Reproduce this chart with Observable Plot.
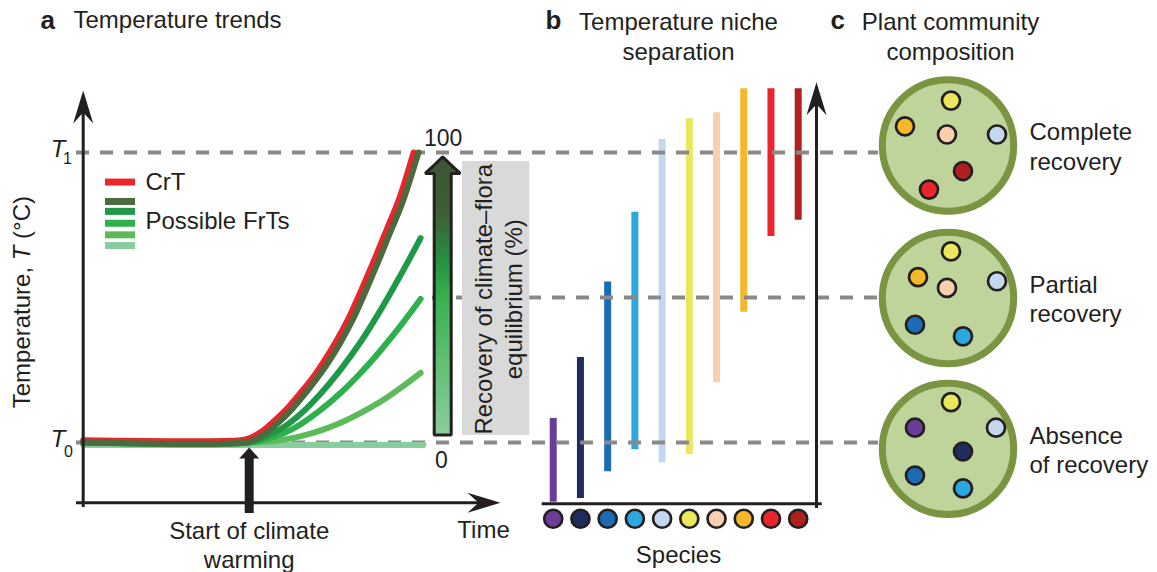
<!DOCTYPE html>
<html><head><meta charset="utf-8">
<script src="https://cdn.jsdelivr.net/npm/d3@7"></script>
<script src="https://cdn.jsdelivr.net/npm/@observablehq/plot@0.6"></script>
<style>html,body{margin:0;padding:0;background:#fff;overflow:hidden}</style>
</head><body><div id="chart"></div>
<script>
// ---------- DATA ----------
// Panel a: temperature trends (time 0-100, temperature 0 = T0, 100 = T1)
const crtTime   = [0, 38, 40, 43, 46, 49, 52, 55, 58, 61, 64, 67, 70, 73, 76, 79.6];
const crtTemp   = [0.8, 0.8, 1.4, 3.8, 7.4, 11.5, 16.5, 21.8, 28, 35, 43, 52.5, 62.5, 73, 83.5, 100];
const frt1Time  = [0, 39, 41, 44, 47, 50, 53, 56, 59, 62, 65, 68, 71, 74, 77, 80.8];
const frt1Temp  = [0, 0, 0.8, 3.2, 6.8, 11, 16, 21.5, 27.5, 34.5, 42.5, 52, 62, 72.5, 83, 100];
const frtTime   = [0, 40, 43, 48, 52.5, 57.3, 62.2, 67, 71.8, 76.6, 81.3];
const frt2Temp  = [0, 0, 1.3, 5, 10, 17, 25.5, 35, 46, 58, 70.5];
const frt3Temp  = [0, 0, 0.8, 3, 6.4, 11.3, 17.3, 24.2, 32, 40.5, 49.5];
const frt4Temp  = [0, 0, 0.15, 0.9, 2.2, 4.2, 6.9, 10.3, 14.2, 18.9, 24];
const frt5Time  = [0, 82];
const frt5Temp  = [-0.9, -0.9];
const trendNames  = ["FrT 0%", "FrT 25%", "FrT 50%", "FrT 75%", "CrT", "FrT 100%"];
const trendColors = ["#88cd9e", "#5cbb58", "#2eb14d", "#1f9948", "#e8262b", "#4b6a3d"];
const warmingStart = 40;
const recoveryTicks = [0, 100];

// Panel b: temperature niches of species (low, high)
const species      = [1, 2, 3, 4, 5, 6, 7, 8, 9, 10];
const speciesColor = ["#6b3c98", "#1f2d5e", "#1a6db3", "#2ba8e0", "#c3d7ee", "#ebe75c", "#f8d0b0", "#f6b829", "#e8262b", "#b0201f"];
const nicheLow     = [-20.6, -19.3, -10.1, -2.5, -7.0, -4.1, 20.6, 44.9, 71, 76.6];
const nicheHigh    = [8.3, 29.3, 55.3, 79.4, 104.5, 111.6, 113.7, 122, 122, 122];

// Panel c: plant community composition
const communities    = ["Complete\nrecovery", "Partial\nrecovery", "Absence\nof recovery"];
const communityLevel = [102.4, 49.8, -2.2];
const communityMembers = [
  [6, 8, 7, 5, 10, 9],
  [6, 8, 7, 5, 3, 4],
  [6, 1, 5, 2, 3, 4]
];
// member placement inside each community disc (layout x offset, temperature offset from disc centre)
const memberDx = [
  [3, -43, -1, 49, 15, -19],
  [3, -30, -1, 49, -33, 15],
  [3, -33, 48, 15, -33, 15]
];
const memberDT = [
  [15.5, 6.6, 3.8, 3.8, -8.8, -15.2],
  [16.1, 7.2, 3.5, 5.8, -9.2, -13.2],
  [16.1, 7.3, 7.3, -0.9, -9.2, -13.6]
];
const levels = [100, 50, 0];

// ---------- LAYOUT HELPERS ----------
const tx = t => 82.7 + 4.15 * t;           // panel a time -> layout x
const sx = i => 525.5 + 27.22 * i;          // panel b species -> layout x
const cx = 947.5;                            // panel c disc centre
const ink = "#231f20";
const font = "Liberation Sans, Arial, Helvetica, sans-serif";
const fs = 24;

// ---------- TABLES ----------
const trendSeries = [
  [frt5Time, frt5Temp], [frtTime, frt4Temp], [frtTime, frt3Temp],
  [frtTime, frt2Temp], [crtTime, crtTemp], [frt1Time, frt1Temp]
];
const trendRows = trendSeries.flatMap(([ts, vs], k) =>
  ts.map((t, j) => ({name: trendNames[k], color: trendColors[k], order: k, time: t, temp: vs[j]})));
const nicheRows = species.map((s, i) => ({s, color: speciesColor[i], lo: nicheLow[i], hi: nicheHigh[i]}));
const memberRows = communities.flatMap((c, k) => communityMembers[k].map((s, j) => ({
  c, s, color: speciesColor[s - 1], x: cx + memberDx[k][j], temp: communityLevel[k] + memberDT[k][j]})));
const legendRows = [
  {color: "#e8262b", temp: 89.8}, {color: "#4b6a3d", temp: 83.1}, {color: "#1f9948", temp: 79.7},
  {color: "#2eb14d", temp: 75.6}, {color: "#5cbb58", temp: 71.6}, {color: "#88cd9e", temp: 67.9}
];
const dashRows = [
  {temp: 100, x1: 76, x2: 878}, {temp: 50, x1: 432, x2: 878}, {temp: 0, x1: 76, x2: 878}
];
// gradient recovery arrow outline (layout x, temperature)
const recArrow = [
  {x: 425.2, lo: 92.6, hi: 92.6}, {x: 434.2, lo: 92.6, hi: 95.5}, {x: 434.2, lo: 2.4, hi: 95.5},
  {x: 442.7, lo: 2.4, hi: 98.3}, {x: 451.2, lo: 2.4, hi: 95.5}, {x: 451.2, lo: 92.6, hi: 95.5},
  {x: 460.2, lo: 92.6, hi: 92.6}
];

// ---------- SYMBOLS ----------
const barb = {draw(ctx, size) { const r = Math.sqrt(size / Math.PI);
  ctx.moveTo(0, 0); ctx.lineTo(r, 3.3 * r); ctx.lineTo(0, 2.2 * r); ctx.lineTo(-r, 3.3 * r); ctx.closePath(); }};
const tri = {draw(ctx, size) { const r = Math.sqrt(size / Math.PI);
  ctx.moveTo(0, 0); ctx.lineTo(r, 1.1 * r); ctx.lineTo(-r, 1.1 * r); ctx.closePath(); }};

const txt = (data, o) => Plot.text(data, {fill: ink, fontFamily: font, fontSize: fs, ...o});

const chart = Plot.plot({
  width: 1157, height: 572, margin: 0,
  x: {domain: [0, 1157], range: [0, 1157], axis: null},
  y: {domain: [-44.83, 152.41], range: [572, 0], axis: null},
  style: {background: "white", fontFamily: font, overflow: "visible"},
  marks: [
    // community discs
    Plot.dot(communityLevel, {x: () => cx, y: d => d, r: 65.7, fill: "#bed49b", stroke: "#7b9442", strokeWidth: 7}),
    // niche bars
    Plot.ruleX(nicheRows, {x: d => sx(d.s), y1: "lo", y2: "hi", stroke: "color", strokeWidth: 7}),
    // dashed reference levels
    Plot.ruleY(dashRows, {y: "temp", x1: "x1", x2: "x2", stroke: "#898989", strokeWidth: 4, strokeDasharray: "13,11"}),
    // recovery box + arrow
    Plot.rect([0], {x1: () => 462, x2: () => 529.3, y1: () => 2.4, y2: () => 96.9, fill: "#d9d9d9"}),
    Plot.areaY(recArrow, {x: "x", y1: "lo", y2: "hi", fill: "url(#recGrad)", stroke: ink, strokeWidth: 3, strokeLinejoin: "miter"}),
    // trends
    Plot.line(trendRows, {x: d => tx(d.time), y: "temp", z: "order", stroke: "color", strokeWidth: 6, curve: "catmull-rom"}),
    // axes a
    Plot.ruleX([0], {x: () => tx(0), y1: -22.4, y2: 115, stroke: ink, strokeWidth: 3}),
    Plot.ruleY([0], {y: () => -20.8, x1: 76, x2: 485, stroke: ink, strokeWidth: 3}),
    Plot.dot([0], {x: () => tx(0), y: () => 121.4, symbol: barb, r: 10, fill: ink, stroke: null}),
    Plot.dot([0], {x: () => 500, y: () => -20.8, symbol: barb, r: 10, rotate: 90, fill: ink, stroke: null}),
    // axes b
    Plot.ruleX([0], {x: () => 816, y1: -22.8, y2: 118, stroke: ink, strokeWidth: 3}),
    Plot.ruleY([0], {y: () => -21.1, x1: 541.7, x2: 821.7, stroke: ink, strokeWidth: 3}),
    Plot.dot([0], {x: () => 816, y: () => 124.2, symbol: barb, r: 10, fill: ink, stroke: null}),
    // start of warming arrow
    Plot.ruleX([warmingStart], {x: d => tx(d), y1: -5, y2: -24.5, stroke: ink, strokeWidth: 9}),
    Plot.dot([warmingStart], {x: d => tx(d), y: () => -1.7, symbol: tri, r: 10, fill: ink, stroke: null}),
    // species dots
    Plot.dot(nicheRows, {x: d => sx(d.s), y: () => -26.3, r: 9, fill: "color", stroke: ink, strokeWidth: 2.7}),
    // community members
    Plot.dot(memberRows, {x: "x", y: "temp", r: 9, fill: "color", stroke: ink, strokeWidth: 2.7}),
    // legend
    Plot.ruleY(legendRows, {y: "temp", x1: 105, x2: 135, stroke: "color", strokeWidth: 7}),
    txt(["CrT"], {x: () => 145, y: () => 89.7, textAnchor: "start"}),
    txt(["Possible FrTs"], {x: () => 145, y: () => 76.4, textAnchor: "start"}),
    // titles
    txt(["a"], {x: () => 40, y: () => 145.6, textAnchor: "start", fontWeight: "bold", fontSize: 26}),
    txt(["Temperature trends"], {x: () => 73, y: () => 145.6, textAnchor: "start"}),
    txt(["b"], {x: () => 545, y: () => 145.6, textAnchor: "start", fontWeight: "bold", fontSize: 26}),
    txt(["Temperature niche\nseparation"], {x: () => 678, y: () => 140.4, lineHeight: 1.27}),
    txt(["c"], {x: () => 830, y: () => 145.6, textAnchor: "start", fontWeight: "bold", fontSize: 26}),
    txt(["Plant community\ncomposition"], {x: () => 950, y: () => 140.4, lineHeight: 1.27}),
    // axis labels a
    txt(["Temperature, T (°C)"], {x: () => 21.7, y: () => 48.4, rotate: -90}),
    txt(levels.filter(d => d !== 50), {x: () => 57.5, y: d => d, text: () => "T", fontStyle: "italic", fontSize: 24, dy: -3}),
    txt(levels.filter(d => d === 100), {x: () => 67, y: d => d, text: () => "1", fontSize: 16, dy: 6}),
    txt(levels.filter(d => d === 0), {x: () => 68, y: d => d, text: () => "0", fontSize: 16, dy: 9}),
    txt(["Time"], {x: () => 483, y: () => -30.3}),
    txt(["Start of climate\nwarming"], {x: () => tx(warmingStart), y: () => -35.2, lineHeight: 1.2}),
    txt(recoveryTicks.filter(d => d === 100), {x: () => 442.7, y: d => d, fontSize: 23, dy: -14}),
    txt(recoveryTicks.filter(d => d === 0), {x: () => 441, y: d => d, fontSize: 23, dy: 18}),
    txt(["Recovery of climate\u2013flora\nequilibrium (%)"], {x: () => 496.7, y: () => 49.4, rotate: -90, lineHeight: 1.27}),
    // panel b label
    txt(["Species"], {x: () => 678, y: () => -39}),
    // panel c labels
    txt(communities, {x: () => 1029, y: (d, i) => communityLevel[i], textAnchor: "start", lineHeight: 1.22})
  ]
});

// gradient for the recovery arrow
const defs = d3.select(chart).insert("defs", ":first-child");
const g = defs.append("linearGradient").attr("id", "recGrad").attr("x1", 0).attr("y1", 0).attr("x2", 0).attr("y2", 1);
[[0, "#3b5634"], [0.2, "#3f5d37"], [0.37, "#25903f"], [0.5, "#36b14f"], [0.75, "#62c074"], [1, "#8acd9e"]]
  .forEach(([o, c]) => g.append("stop").attr("offset", o).attr("stop-color", c));

// italic T in the axis title
chart.querySelectorAll("text").forEach(t => {
  if (t.textContent === "Temperature, T (°C)") {
    t.textContent = "";
    const s = d3.select(t);
    s.append("tspan").text("Temperature, ");
    s.append("tspan").attr("font-style", "italic").text("T");
    s.append("tspan").text(" (°C)");
  }
});

document.getElementById("chart").appendChild(chart);
</script>
</body></html>
